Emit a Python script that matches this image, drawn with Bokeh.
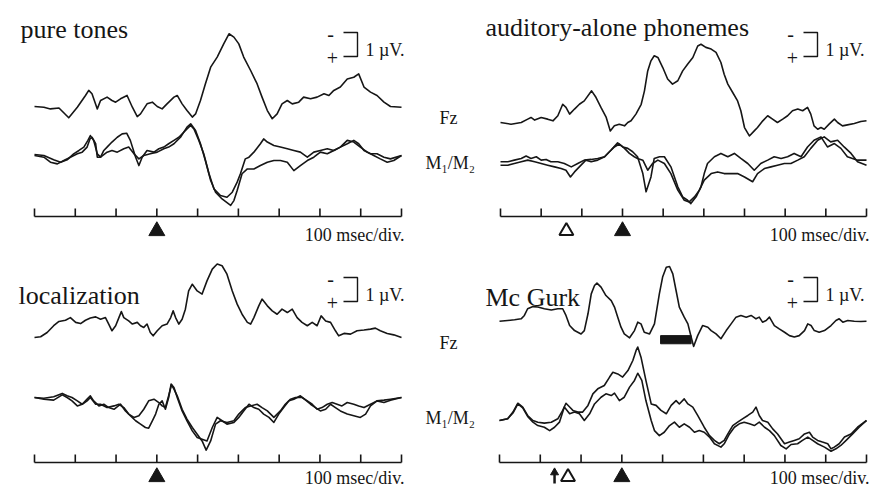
from bokeh.plotting import figure
from bokeh.models import Range1d
from bokeh.embed import file_html
from bokeh.resources import INLINE
from bokeh.core.properties import value

# ------------------------------------------------------------------ data
# time in ms relative to the (auditory) stimulus onset, amplitude in µV
# (negative plotted upward, as in the original ERP figure)
TICKS_MS = [-300, -200, -100, 0, 100, 200, 300, 400, 500, 600]
TIME_SPAN = (-300, 600)

TITLES = {"pt": "pure tones", "aa": "auditory-alone phonemes",
          "lo": "localization", "mg": "Mc Gurk"}
CHANNEL_FZ = "Fz"
CHANNEL_M = "M\u2081/M\u2082"
SCALE_TEXT = "1 \u00b5V."
DIV_TEXT = "100 msec/div."
SCALE_UV = 1.0

# ---- pure tones
PT_FZ = [(-300, 0), (-277, 0.03), (-261, 0.10), (-240, 0.06), (-216, 0.47), (-195, 0.03),
         (-175, -0.46), (-167, -0.67), (-159, -0.53), (-146, 0.10), (-138, -0.25), (-122, -0.39),
         (-110, -0.25), (-101, -0.18), (-89, -0.32), (-73, -0.46), (-60, 0.03), (-48, 0.42),
         (-40, 0.31), (-24, -0.11), (-11, -0.18), (1, 0), (13, 0.10), (25, -0.11), (42, -0.39),
         (50, -0.46), (62, -0.11), (74, 0.17), (87, 0.44), (95, 0.31), (107, -0.25), (119, -0.94),
         (132, -1.64), (148, -2.06), (164, -2.61), (177, -3.03), (189, -2.89), (201, -2.61),
         (213, -2.06), (230, -1.50), (246, -0.94), (258, -0.39), (271, 0.17), (283, 0.51),
         (295, 0.31), (307, -0.11), (320, -0.25), (332, -0.11), (348, -0.18), (360, -0.39),
         (377, -0.32), (393, -0.39), (410, -0.53), (422, -0.46), (434, -0.67), (450, -0.81),
         (467, -1.15), (483, -1.22), (495, -1.36), (508, -0.81), (524, -0.60), (540, -0.46),
         (557, -0.18), (573, 0), (600, 0.03)]
PT_M1 = [(-300, -0.04), (-277, 0), (-253, 0.18), (-236, 0.28), (-220, 0.18), (-204, -0.07),
         (-191, -0.21), (-179, -0.35), (-169, -0.63), (-163, -0.83), (-155, -0.63), (-146, -0.07),
         (-138, 0.07), (-130, -0.21), (-122, -0.35), (-110, -0.56), (-97, -0.76), (-85, -0.90),
         (-74, -0.93), (-65, -0.63), (-52, 0.07), (-44, 0.42), (-36, 0.07), (-24, -0.21),
         (-7, -0.14), (5, -0.28), (17, -0.35), (29, -0.49), (42, -0.63), (54, -0.76), (66, -0.97),
         (74, -1.11), (83, -1.25), (91, -1.11), (103, -0.63), (115, -0.07), (128, 0.76),
         (140, 1.39), (156, 1.67), (172, 1.74), (185, 1.53), (197, 1.11), (205, 0.76), (217, 0.14),
         (226, 0.07), (238, -0.14), (254, -0.49), (262, -0.69), (271, -0.56), (287, -0.42),
         (303, -0.35), (320, -0.28), (336, -0.21), (352, -0.14), (369, 0.07), (385, -0.14),
         (401, -0.21), (418, -0.28), (434, -0.21), (450, -0.35), (467, -0.49), (483, -0.63),
         (495, -0.49), (508, -0.21), (524, -0.07), (540, -0.07), (557, 0.07), (573, 0.14), (600, 0)]
PT_M2 = [(-300, 0), (-277, 0.07), (-261, 0.28), (-244, 0.35), (-228, 0.21), (-212, 0.07),
         (-195, -0.07), (-183, -0.14), (-171, -0.35), (-164, -0.69), (-159, -0.76), (-150, -0.49),
         (-146, 0.07), (-138, 0.07), (-122, -0.14), (-110, -0.21), (-97, -0.14), (-81, -0.28),
         (-69, -0.35), (-56, -0.07), (-44, 0.14), (-32, 0), (-16, -0.07), (1, -0.14), (17, -0.28),
         (29, -0.35), (42, -0.49), (58, -0.76), (74, -1.18), (83, -1.32), (95, -1.04),
         (107, -0.49), (119, 0.21), (132, 1.04), (144, 1.53), (160, 1.81), (181, 2.08),
         (189, 1.88), (197, 1.46), (209, 0.76), (222, 0.56), (238, 0.56), (254, 0.42), (271, 0.28),
         (287, 0.21), (303, 0.21), (320, 0.28), (336, 0.63), (352, 0.42), (369, 0.21), (385, 0.07),
         (401, -0.14), (418, -0.07), (434, -0.21), (450, -0.35), (467, -0.63), (483, -0.56),
         (499, -0.35), (516, -0.14), (532, 0), (548, 0.14), (565, 0.28), (581, 0.21), (600, 0)]

# ---- auditory-alone phonemes
AA_FZ = [(-300, 0), (-274, 0.07), (-249, 0), (-233, -0.14), (-225, -0.21), (-216, -0.10),
         (-200, -0.21), (-184, -0.14), (-171, -0.07), (-159, -0.28), (-147, -0.76), (-139, -0.63),
         (-130, -0.35), (-118, -0.56), (-106, -0.76), (-94, -0.90), (-76, -1.32), (-65, -1.04),
         (-53, -0.63), (-40, -0.21), (-30, 0.35), (-20, 0.14), (-8, 0.07), (5, 0.14), (13, 0),
         (21, -0.07), (33, -0.35), (46, -0.76), (54, -1.32), (62, -2.15), (70, -2.57),
         (78, -2.78), (87, -2.71), (99, -2.29), (111, -1.81), (123, -1.60), (136, -1.74),
         (148, -2.15), (160, -2.43), (173, -2.71), (185, -3.19), (193, -3.26), (205, -3.13),
         (218, -3.06), (230, -2.92), (242, -2.50), (250, -2.01), (259, -1.60), (271, -1.25),
         (283, -0.90), (291, -0.49), (300, 0.21), (312, 0.56), (324, 0.35), (332, 0.21),
         (345, -0.07), (357, -0.28), (369, -0.14), (381, 0), (394, -0.14), (406, -0.28),
         (418, -0.49), (431, -0.56), (443, -0.49), (455, -0.63), (463, -0.35), (471, 0.14),
         (480, 0.28), (488, 0.21), (496, 0.28), (508, 0.07), (521, -0.14), (529, 0), (541, 0.14),
         (553, 0.10), (570, 0.04), (586, -0.04), (600, -0.07)]
AA_M1 = [(-300, -0.07), (-282, -0.07), (-266, -0.14), (-249, -0.21), (-237, -0.31), (-225, -0.21),
         (-212, -0.28), (-200, -0.14), (-188, -0.17), (-176, -0.07), (-159, -0.07), (-143, 0),
         (-126, 0.14), (-110, 0), (-94, -0.14), (-77, -0.17), (-61, -0.21), (-44, -0.28),
         (-28, -0.56), (-12, -0.86), (1, -0.69), (13, -0.63), (25, -0.49), (37, -0.28), (50, 0.42),
         (58, 1.18), (70, 0.56), (78, -0.21), (91, -0.28), (103, -0.28), (119, 0.14), (136, 0.97),
         (148, 1.39), (160, 1.53), (168, 1.67), (181, 1.39), (193, 0.97), (201, 0.42), (209, 0),
         (226, -0.28), (242, -0.42), (259, -0.28), (275, -0.42), (291, -0.21), (308, 0),
         (324, 0.28), (340, 0), (357, -0.14), (373, -0.28), (390, -0.21), (406, -0.28),
         (422, -0.42), (439, -0.28), (455, -0.69), (471, -0.97), (488, -1.11), (504, -0.69),
         (521, -0.83), (537, -0.63), (553, -0.28), (578, -0.14), (600, -0.14)]
AA_M2 = [(-300, 0.07), (-282, 0.07), (-266, 0), (-249, -0.07), (-233, -0.14), (-216, -0.07),
         (-200, 0), (-184, 0.07), (-167, 0.14), (-151, 0.21), (-139, 0.28), (-128, 0.56),
         (-118, 0.35), (-102, 0.07), (-90, -0.14), (-77, -0.07), (-61, -0.14), (-44, -0.28),
         (-32, -0.49), (-20, -0.69), (-8, -0.81), (5, -0.63), (17, -0.42), (29, -0.28),
         (37, -0.21), (50, -0.14), (62, 0.28), (74, 0), (87, -0.14), (103, 0), (119, 0.42),
         (136, 1.11), (152, 1.53), (164, 1.60), (177, 1.39), (189, 1.11), (201, 0.69),
         (218, 0.42), (234, 0.35), (250, 0.42), (267, 0.42), (283, 0.42), (300, 0.56),
         (320, 0.76), (332, 0.42), (349, 0.21), (365, 0.14), (381, 0.07), (398, 0), (414, 0),
         (431, -0.14), (447, -0.28), (463, -0.63), (480, -0.97), (496, -1.11), (512, -0.90),
         (529, -0.97), (545, -0.69), (562, -0.42), (578, -0.07), (600, 0.07)]

# ---- localization
LO_FZ = [(-300, 0), (-285, -0.03), (-269, -0.21), (-253, -0.49), (-240, -0.67), (-224, -0.72),
         (-212, -0.83), (-199, -0.63), (-187, -0.58), (-175, -0.72), (-163, -0.81), (-150, -0.86),
         (-138, -0.76), (-126, -0.83), (-118, -0.56), (-110, -0.28), (-101, -0.49), (-93, -0.83),
         (-87, -1.08), (-81, -0.83), (-69, -0.69), (-60, -0.56), (-48, -0.63), (-40, -0.49),
         (-32, -0.42), (-24, -0.56), (-16, -0.21), (-9, -0.07), (1, -0.28), (13, -0.49),
         (25, -0.56), (34, -0.83), (40, -1.11), (46, -0.83), (54, -0.56), (62, -0.76),
         (70, -1.18), (78, -1.94), (87, -2.22), (99, -1.94), (111, -1.81), (123, -2.36),
         (136, -2.85), (148, -3.06), (160, -2.99), (172, -2.64), (185, -1.94), (197, -1.39),
         (209, -0.97), (222, -0.63), (230, -0.56), (238, -0.83), (250, -1.32), (258, -1.60),
         (271, -1.32), (283, -1.11), (295, -0.97), (307, -1.18), (320, -1.04), (332, -1.18),
         (344, -0.83), (356, -0.63), (369, -0.49), (381, -0.63), (393, -0.49), (403, -0.90),
         (414, -0.69), (426, -0.63), (438, -0.28), (446, -0.07), (459, -0.17), (475, -0.14),
         (491, -0.28), (508, -0.31), (524, -0.35), (536, -0.39), (548, -0.28), (565, -0.17),
         (581, -0.11), (600, 0)]
LO_M1 = [(-300, 0), (-277, 0.03), (-253, -0.03), (-232, -0.17), (-220, -0.07), (-208, 0),
         (-195, 0.14), (-183, 0.28), (-171, 0.07), (-163, -0.07), (-155, 0.14), (-142, 0.35),
         (-130, 0.28), (-118, 0.42), (-105, 0.49), (-89, 0.28), (-77, 0.56), (-65, 0.76),
         (-52, 0.97), (-40, 1.11), (-28, 1.25), (-20, 1.28), (-11, 0.97), (-3, 0.69), (5, 0.28),
         (13, 0.14), (21, 0.49), (29, 0), (35, -0.56), (42, -0.42), (50, 0), (62, 0.56),
         (74, 0.97), (87, 1.39), (99, 1.67), (111, 1.74), (123, 1.81), (136, 1.25), (148, 0.83),
         (160, 0.97), (172, 1.11), (189, 1.04), (201, 0.83), (213, 0.56), (226, 0.28), (238, 0.42),
         (250, 0.49), (262, 0.69), (275, 0.83), (287, 1.04), (299, 0.69), (311, 0.42), (324, 0.14),
         (336, 0.07), (352, -0.07), (365, 0.11), (377, 0.28), (389, 0.42), (401, 0.56),
         (414, 0.49), (426, 0.28), (438, 0.42), (450, 0.56), (467, 0.69), (483, 0.76),
         (499, 0.83), (512, 0.69), (524, 0.35), (540, 0.14), (557, 0.21), (573, 0.11), (600, 0)]
LO_M2 = [(-300, 0), (-277, 0.07), (-253, 0.11), (-232, -0.11), (-220, 0), (-208, 0.14),
         (-195, 0.35), (-183, 0.28), (-171, 0.14), (-163, 0), (-150, 0.28), (-138, 0.28),
         (-122, 0.42), (-105, 0.35), (-93, 0.28), (-81, 0.42), (-69, 0.69), (-56, 0.83),
         (-44, 0.76), (-32, 0.49), (-20, 0.14), (-7, 0.07), (5, 0.21), (13, 0.35), (21, 0.42),
         (29, -0.07), (36, -0.53), (42, -0.35), (50, -0.07), (62, 0.49), (74, 0.90), (87, 1.25),
         (99, 1.53), (111, 1.81), (121, 2.19), (132, 1.81), (144, 1.11), (156, 0.97), (172, 1.04),
         (189, 0.97), (201, 0.69), (217, 0.42), (230, 0.35), (246, 0.28), (258, 0.42), (271, 0.56),
         (287, 0.83), (303, 0.56), (315, 0.28), (328, 0.07), (340, 0), (356, 0), (369, 0.14),
         (381, 0.28), (393, 0.49), (405, 0.42), (418, 0.28), (430, 0.21), (442, 0.28),
         (454, 0.35), (467, 0.21), (483, 0.28), (495, 0.35), (508, 0.42), (524, 0.28),
         (540, 0.14), (557, 0.11), (573, 0.07), (600, 0)]

# ---- Mc Gurk
MG_FZ = [(-300, 0.03), (-280, 0), (-263, -0.03), (-247, -0.07), (-239, -0.21), (-231, -0.49),
         (-218, -0.58), (-206, -0.56), (-190, -0.49), (-173, -0.44), (-157, -0.49), (-145, -0.49),
         (-137, -0.21), (-128, 0.21), (-116, 0.42), (-100, 0.56), (-92, 0.42), (-83, -0.28),
         (-75, -1.11), (-67, -1.46), (-61, -1.56), (-51, -1.39), (-39, -1.04), (-26, -0.83),
         (-18, -0.56), (-10, -0.14), (-2, 0.28), (6, 0.56), (19, 0.72), (31, 0.42), (39, 0.07),
         (47, 0.14), (55, 0.49), (68, 0.56), (80, 0.14), (92, -1.11), (100, -1.81), (109, -2.22),
         (117, -2.25), (125, -1.94), (133, -1.25), (141, -0.56), (153, -0.14), (162, 0.14),
         (170, 0.69), (176, 1.08), (186, 0.63), (198, 0.21), (211, 0.28), (219, 0.42), (231, 0.56),
         (243, 0.76), (256, 0.42), (268, 0.14), (280, -0.14), (292, -0.21), (305, -0.14),
         (317, -0.21), (329, -0.07), (337, -0.14), (345, 0.07), (354, 0), (362, -0.14),
         (374, 0.21), (386, 0.35), (399, 0.49), (411, 0.63), (423, 0.69), (435, 0.63),
         (448, 0.42), (456, 0.14), (464, 0.21), (472, 0.42), (484, 0.49), (497, 0.42),
         (513, 0.21), (525, 0), (533, -0.07), (542, 0.07), (554, 0), (570, 0.03), (586, 0.04),
         (600, 0.03)]
MG_M1 = [(-300, 0), (-280, -0.07), (-267, -0.35), (-255, -0.72), (-243, -0.56), (-231, -0.21),
         (-218, 0), (-206, 0.07), (-190, 0.11), (-173, 0.07), (-157, -0.07), (-145, -0.42),
         (-137, -0.72), (-128, -0.56), (-120, -0.42), (-108, -0.35), (-96, -0.35), (-83, -0.63),
         (-71, -1.11), (-59, -1.32), (-43, -1.46), (-30, -1.81), (-22, -2.01), (-10, -1.94),
         (2, -1.81), (15, -2.08), (27, -2.50), (35, -2.92), (39, -3.06), (47, -2.64), (59, -1.67),
         (72, -0.69), (84, -0.63), (96, -0.42), (109, -0.28), (121, -0.63), (133, -0.83),
         (141, -0.69), (153, -0.90), (162, -0.69), (174, -0.56), (186, -0.21), (202, 0.28),
         (215, 0.63), (227, 0.83), (239, 0.97), (251, 0.83), (260, 0.56), (272, 0.21), (284, 0.07),
         (296, -0.07), (309, -0.21), (321, -0.35), (329, -0.56), (337, -0.21), (345, 0),
         (358, 0.07), (370, 0.35), (382, 0.56), (399, 0.97), (411, 0.90), (423, 0.83),
         (435, 0.76), (448, 0.56), (460, 0.49), (468, 0.69), (480, 0.83), (492, 0.90), (505, 0.97),
         (513, 1.18), (521, 1.11), (533, 0.97), (546, 0.69), (562, 0.56), (578, 0.28), (600, 0)]
MG_M2 = [(-300, 0), (-280, -0.07), (-267, -0.31), (-255, -0.69), (-243, -0.53), (-231, -0.17),
         (-218, 0.07), (-206, 0.21), (-190, 0.28), (-177, 0.42), (-165, 0.28), (-153, 0.07),
         (-141, -0.56), (-128, -0.28), (-116, -0.35), (-104, -0.28), (-92, 0), (-79, -0.28),
         (-67, -0.69), (-51, -0.97), (-39, -1.11), (-26, -1.04), (-18, -1.14), (-6, -0.83),
         (6, -0.97), (19, -1.39), (31, -1.67), (39, -1.97), (49, -1.67), (59, -0.83), (72, 0),
         (80, 0.42), (92, 0.63), (104, 0.49), (117, 0.21), (129, 0.07), (141, 0.28), (153, 0.14),
         (166, 0.28), (178, 0.49), (190, 0.42), (202, 0.49), (215, 0.69), (227, 0.97), (243, 1.11),
         (251, 0.97), (264, 0.56), (276, 0.28), (288, 0.14), (300, 0.07), (313, 0.14), (325, 0.21),
         (337, 0.07), (350, 0.28), (362, 0.42), (374, 0.63), (390, 1.04), (403, 1.18),
         (415, 1.00), (431, 0.97), (443, 0.83), (456, 0.69), (468, 0.83), (480, 0.97),
         (497, 1.11), (513, 1.28), (525, 1.18), (537, 1.04), (550, 0.83), (566, 0.56),
         (582, 0.28), (600, 0)]

TRACES = {"pt": (PT_FZ, PT_M1, PT_M2), "aa": (AA_FZ, AA_M1, AA_M2),
          "lo": (LO_FZ, LO_M1, LO_M2), "mg": (MG_FZ, MG_M1, MG_M2)}

# stimulus markers (ms)
ONSET_FILLED = {"pt": [0], "aa": [0], "lo": [0], "mg": [0]}
ONSET_OPEN = {"aa": [-138], "mg": [-132]}
ONSET_ARROW = {"mg": [-165]}
MG_SIG_WINDOW = [(95, 170)]

# ------------------------------------------------------------------ layout (page pixels)
W, H, OFF = 877, 486, 0
PX_PER_UV = 24.0
PANELS = {
    "pt": dict(x0=34, x1=401, axis=216, fz=106, m=155, title=(20, 29), bracket=(357, 32), div_dy=18),
    "aa": dict(x0=500, x1=866, axis=216, fz=122, m=163, title=(485, 27), bracket=(817, 32), div_dy=18),
    "lo": dict(x0=34, x1=401, axis=462, fz=337, m=397, title=(18, 295), bracket=(357, 277), div_dy=15),
    "mg": dict(x0=499, x1=866, axis=462, fz=320, m=420, title=(485, 297), bracket=(817, 277), div_dy=15),
}
ROW_LABELS = [dict(fz=(439, 117), m=(425, 162)), dict(fz=(439, 342), m=(425, 417))]
SIG_BAR_UV = (0.63, 0.97)   # vertical extent of the McGurk significance bar (below Fz baseline)

INK = "#161616"
SERIF = value("Liberation Serif")

p = figure(width=W, height=H, output_backend="svg", toolbar_location=None,
           x_axis_type=None, y_axis_type=None, min_border=0,
           x_range=Range1d(OFF, OFF + W), y_range=Range1d(OFF + H, OFF))
p.outline_line_color = None
p.background_fill_color = "white"
p.border_fill_color = "white"


def ms_range(x0, x1):
    k = (x1 - x0) / (TIME_SPAN[1] - TIME_SPAN[0])
    return Range1d(TIME_SPAN[0] - (x0 - OFF) / k, TIME_SPAN[0] + (OFF + W - x0) / k)


def uv_range(base):
    return Range1d((OFF + H - base) / PX_PER_UV, (OFF - base) / PX_PER_UV)


for key, L in PANELS.items():
    xr = "x_" + key
    p.extra_x_ranges[xr] = ms_range(L["x0"], L["x1"])
    p.extra_y_ranges["fz_" + key] = uv_range(L["fz"])
    p.extra_y_ranges["m_" + key] = uv_range(L["m"])

    fz, m1, m2 = TRACES[key]
    for trace, yr in ((fz, "fz_" + key), (m1, "m_" + key), (m2, "m_" + key)):
        p.line([t for t, _ in trace], [v for _, v in trace], line_color=INK, line_width=1.6,
               line_join="round", x_range_name=xr, y_range_name=yr)

    # time axis with 100 ms divisions
    ay = L["axis"]
    p.segment(x0=[TIME_SPAN[0]], x1=[TIME_SPAN[1]], y0=[ay], y1=[ay], line_color=INK,
              line_width=1.6, x_range_name=xr)
    p.segment(x0=TICKS_MS, x1=TICKS_MS, y0=[ay] * len(TICKS_MS), y1=[ay - 8] * len(TICKS_MS),
              line_color=INK, line_width=1.6, x_range_name=xr)
    p.text(x=[L["x1"] + 3], y=[ay + L["div_dy"]], text=[DIV_TEXT], text_font=SERIF,
           text_font_size=value("18px"), text_align="right", text_baseline="alphabetic",
           text_color=INK)

    # stimulus markers
    fo = ONSET_FILLED.get(key, [])
    p.scatter(x=fo, y=[ay + 14.5] * len(fo), marker="triangle", size=16, fill_color=INK,
              line_color=INK, x_range_name=xr)
    oo = ONSET_OPEN.get(key, [])
    p.scatter(x=oo, y=[ay + 14.5] * len(oo), marker="triangle", size=14, fill_color="white",
              line_color=INK, line_width=2, x_range_name=xr)
    ar = ONSET_ARROW.get(key, [])
    p.segment(x0=ar, x1=ar, y0=[ay + 21] * len(ar), y1=[ay + 10] * len(ar), line_color=INK,
              line_width=2.5, x_range_name=xr)
    p.scatter(x=ar, y=[ay + 10] * len(ar), marker="triangle", size=8, fill_color=INK,
              line_color=INK, x_range_name=xr)

    # title
    tx, ty = L["title"]
    p.text(x=[tx], y=[ty], text=[TITLES[key]], text_font=SERIF, text_font_size=value("26px"),
           text_align="left", text_baseline="alphabetic", text_color=INK)

    # calibration bracket (1 µV)
    bx, by = L["bracket"]
    bh = SCALE_UV * PX_PER_UV
    p.line([bx - 14, bx, bx, bx - 14], [by, by, by + bh, by + bh], line_color=INK, line_width=1.4)
    p.text(x=[bx - 27, bx - 25], y=[by + 1, by + bh + 1], text=["-", "+"], text_font=SERIF,
           text_font_size=value("20px"), text_align="center", text_baseline="middle",
           text_color=INK)
    p.text(x=[bx + 8], y=[by + 17], text=[SCALE_TEXT], text_font=SERIF,
           text_font_size=value("18px"), text_align="left", text_baseline="alphabetic",
           text_color=INK)

# McGurk significance window on Fz
p.quad(left=[a for a, _ in MG_SIG_WINDOW], right=[b for _, b in MG_SIG_WINDOW],
       top=[SIG_BAR_UV[0]], bottom=[SIG_BAR_UV[1]], fill_color=INK, line_color=INK,
       x_range_name="x_mg", y_range_name="fz_mg")

# channel labels between the columns
for row in ROW_LABELS:
    p.text(x=[row["fz"][0], row["m"][0]], y=[row["fz"][1], row["m"][1]],
           text=[CHANNEL_FZ, CHANNEL_M], text_font=SERIF, text_font_size=value("18px"),
           text_align="left", text_baseline="alphabetic", text_color=INK)

open("out.html", "w").write(file_html(p, INLINE))
